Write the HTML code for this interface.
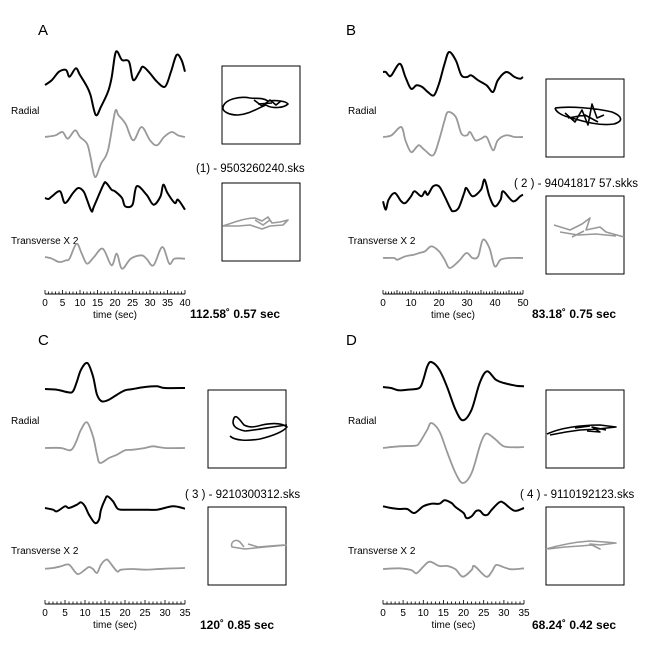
<!DOCTYPE html>
<html><head><meta charset="utf-8"><style>
html,body{margin:0;padding:0;background:#fff;}
svg{display:block;font-family:"Liberation Sans",sans-serif;}
</style></head><body>
<svg id="fig" width="670" height="669" viewBox="0 0 670 669" xmlns="http://www.w3.org/2000/svg">
<rect width="670" height="669" fill="#fff"/>
<g id="static" font-size="12" fill="#000">
<text x="38" y="35" font-size="15">A</text>
<text x="346" y="35" font-size="15">B</text>
<text x="38" y="345" font-size="15">C</text>
<text x="346" y="345" font-size="15">D</text>
<text x="11" y="114" font-size="10">Radial</text>
<text x="348" y="114" font-size="10">Radial</text>
<text x="11" y="424" font-size="10">Radial</text>
<text x="348" y="424" font-size="10">Radial</text>
<text x="11" y="244" font-size="10">Transverse X 2</text>
<text x="348" y="244" font-size="10">Transverse X 2</text>
<text x="11" y="554" font-size="10">Transverse X 2</text>
<text x="348" y="554" font-size="10">Transverse X 2</text>
<text x="196" y="172" font-size="11.5">(1) - 9503260240.sks</text>
<text x="514" y="187" font-size="11.5">( 2 ) - 94041817 57.skks</text>
<text x="185" y="498" font-size="11.5">( 3 ) - 9210300312.sks</text>
<text x="520" y="498" font-size="11.5">( 4 ) - 9110192123.sks</text>
<text x="190" y="318" font-size="12" font-weight="bold">112.58˚ 0.57 sec</text>
<text x="532" y="318" font-size="12" font-weight="bold">83.18˚ 0.75 sec</text>
<text x="200" y="629" font-size="12" font-weight="bold">120˚ 0.85 sec</text>
<text x="532" y="629" font-size="12" font-weight="bold">68.24˚ 0.42 sec</text>
<g fill="none" stroke="#000" stroke-width="1">
<rect x="222" y="66" width="78" height="78"/>
<rect x="222" y="183" width="78" height="78"/>
<rect x="546" y="79" width="78" height="78"/>
<rect x="546" y="196" width="78" height="78"/>
<rect x="208" y="390" width="78" height="78"/>
<rect x="208" y="507" width="78" height="78"/>
<rect x="546" y="390" width="78" height="78"/>
<rect x="546" y="507" width="78" height="78"/>
</g>
<g fill="none" stroke-width="1.6" stroke-linejoin="round">
<path stroke="#000" d="M223 107 C225 99 240 96 250 98 C256 99 262 97 268 101 C276 100 286 101 288 104 C284 108 272 109 266 105 C258 108 250 114 238 115 C228 115 222 111 223 107 Z M254 100 L262 106 L270 100 L276 105 L281 101 M258 104 L272 103"/>
<path stroke="#999" d="M223 226 C235 222 245 218 255 218 L262 221 L268 217 L272 223 L280 222 L288 220 L283 225 L270 226 L262 229 L250 225 L238 226 Z M255 220 L263 225 L270 220"/>
<path stroke="#000" d="M555 108 C570 106 595 108 612 112 C622 116 624 121 614 124 C600 126 585 122 572 118 C562 116 556 112 555 108 M565 113 L575 122 L582 110 L588 125 L592 104 L597 118 L604 115 M568 118 L585 115 L598 122"/>
<path stroke="#999" d="M554 225 L570 230 L582 224 L590 218 L586 230 L600 227 L606 232 L624 237 M560 232 L578 235 L596 234 L616 236 M572 237 L584 231"/>
<path stroke="#000" d="M287 425 C270 427 258 430 245 431 C235 429 231 425 234 418 C236 414 240 420 244 425 C250 428 255 427 262 425 C272 423 282 423 287 427 C283 432 272 436 260 439 C248 441 235 441 230 436"/>
<path stroke="#999" d="M287 545 L265 547 L245 549 L232 547 C230 542 236 538 240 542 L244 547 M248 544 L258 547 L270 546 L284 545"/>
<path stroke="#000" d="M547 434 C560 428 580 425 600 425 L616 427 L598 429 L580 430 L566 432 L550 435 M587 431 L600 432 L592 427 L606 430 M575 428 L590 426"/>
<path stroke="#999" d="M546 549 C560 545 575 542 590 541 L605 542 L616 543 L600 545 L590 544 L600 549 L592 545 L580 546 L565 547 L548 549"/>
</g>
</g>
<g id="dyn"></g>
</svg>
<script>
// Panel A data (time in s, amplitude in arbitrary units)
const timesA1=[0,2,4,6,7,8.8,10,12,13,14.5,16,18,19,20,20.7,22,24,25.2,27,28,30,32,34.3,36,37.6,39,40];
const ampA1=[0,15,40,45,25,50,30,-5,-30,-90,-65,-20,20,90,100,75,70,15,40,55,35,10,-5,40,90,75,40];
const timesA2=[0,3,5,6.5,8.6,10,12,13,14.3,16,18,20,21,23,25.2,27.6,30,32,34,36.2,38,40];
const ampA2=[0,5,15,-5,20,0,-20,-60,-120,-80,-40,75,65,40,-10,30,-10,-25,0,15,5,0];
const timesA3=[0,1,2,4.3,5.7,8,9.5,11,12,13.3,14,16.7,17.5,19,20,22,22.9,25,26.2,29,31,33,33.8,35,37.1,38,40];
const ampA3=[0,-3,5,20,-15,15,30,20,-5,-40,-25,40,45,25,20,0,-25,-20,35,10,-20,5,40,15,-15,-5,-35];
const timesA4=[0,2,4,6,7,9,10.5,12,14,16.5,19,20.5,22,24.5,27.5,29,31,33.5,35.5,37,40];
const ampA4=[0,-5,-15,-10,-5,40,10,-20,0,25,-25,10,-35,-5,5,-5,-25,30,-20,-5,-5];
// Panel B
const timesB1=[0,1,2,3,6,8,10,12,14,16,18.2,20,22,23.6,26,28,30,31.5,34,37,39.3,41,44,47,49,50];
const ampB1=[0,0,-10,-10,25,-15,-50,-40,-45,-60,-70,-35,25,60,35,-10,-15,-10,-25,-40,-60,-25,0,-15,-20,-15];
const timesB2=[0,3,6.5,8,10,12,13,15,17.9,20,22,23.2,26,28,30,31.1,33,35,37,39.3,41,44,47,50];
const ampB2=[0,5,30,-10,-45,-30,-25,-40,-55,-10,50,75,60,10,5,15,-10,-5,0,-40,-10,5,0,0];
const timesB3=[0,1,2,4.2,6.5,8,10,11.3,13.7,15,16,17.9,20,22,24,25,27,29,29.8,32,35,36.3,38,39.9,42,42.9,46.4,49,50];
const ampB3=[-10,-35,-5,15,-10,-15,5,20,5,20,10,35,35,5,-30,-40,-30,15,30,5,25,55,5,-25,-5,20,-10,5,10];
const timesB4=[0,4,5,8,11,13,15,17.3,20,22,23.8,27,29.8,32,34,35.7,38,39.9,42,45,50];
const ampB4=[0,0,-5,5,10,15,20,35,20,-5,-30,-10,15,0,5,55,30,-25,-5,0,0];
// Panel C
const timesC1=[0,3,5.8,7,8,9,10.6,12,13,14.2,16,18,20,22,25,28,30,35];
const ampC1=[0,-2,-10,-7,23,58,78,38,-17,-37,-32,-17,-4,0,6,8,3,3];
const timesC2=[0,4,6,7,8,9,10.5,12,13,13.75,16,18,20,22,25,27,30,35];
const ampC2=[0,0,-7,0,25,55,77,35,-20,-45,-30,-20,-7,-5,0,5,0,0];
const timesC3=[0,2,3,5,6,8,9,10,11,12.5,13.5,14,15,15.6,17,18,19,22,25,28,32,35];
const ampC3=[0,-5,-10,5,0,10,17,5,-20,-45,-35,-5,25,35,20,0,-5,-5,-5,-5,5,-2];
const timesC4=[0,2,4,6,8.1,10,11,12,13,14,15.25,16,18,19,22,25,30,35];
const ampC4=[-2,0,5,10,-18,-5,3,-3,-15,10,25,20,-10,-5,-3,-5,-2,0];
// Panel D
const timesD1=[0,2,4,6,9,10,11,12,14,16,18,19.8,22,24,25.8,28,30,33,35];
const ampD1=[0,-3,-10,-8,-3,22,62,75,52,-3,-68,-100,-68,12,47,22,12,4,2];
const timesD2=[0,4,8,9,11,12,14,16,18,19.8,22,24,25,26,28,30,33,35];
const ampD2=[0,5,7,15,55,75,50,-15,-75,-105,-75,5,35,43,25,5,2,3];
const timesD3=[0,2,4,6,7.8,10,12,14,15.3,17,18,20,20.7,22,23,24,25,26,27,28.9,30,32.6,35];
const ampD3=[5,0,-3,-3,-15,5,13,13,23,15,3,-15,-30,-25,-10,-8,-20,-20,-5,17,15,-8,0];
const timesD4=[0,4,7,8.3,10,11.6,14,16,18,19.8,22,22.7,25.6,27,28.1,30,32,35];
const ampD4=[0,2,-3,-13,7,22,9,9,-1,-23,-3,9,-23,-8,12,5,-1,2];
// Axis ticks
const ticksA=[0,5,10,15,20,25,30,35,40];
const ticksB=[0,10,20,30,40,50];
const ticksC=[0,5,10,15,20,25,30,35];
const ticksD=[0,5,10,15,20,25,30,35];

const NS='http://www.w3.org/2000/svg';
const dyn=document.getElementById('dyn');
const AMP_SCALE=1/3;
const panels=[
 {id:'a',x0:45,x1:185,tmax:40,axisY:294,ticks:ticksA,bases:[85,137,198,257],traces:[[timesA1,ampA1],[timesA2,ampA2],[timesA3,ampA3],[timesA4,ampA4]]},
 {id:'b',x0:383,x1:523,tmax:50,axisY:294,ticks:ticksB,bases:[72,137,198,258],traces:[[timesB1,ampB1],[timesB2,ampB2],[timesB3,ampB3],[timesB4,ampB4]]},
 {id:'c',x0:45,x1:185,tmax:35,axisY:604,ticks:ticksC,bases:[389,448,508,568],traces:[[timesC1,ampC1],[timesC2,ampC2],[timesC3,ampC3],[timesC4,ampC4]]},
 {id:'d',x0:383,x1:524,tmax:35,axisY:604,ticks:ticksD,bases:[387,448,508,569],traces:[[timesD1,ampD1],[timesD2,ampD2],[timesD3,ampD3],[timesD4,ampD4]]}
];
const traceNames=['radial-original','radial-corrected','transverse-original','transverse-corrected'];
const colors=['#000','#999','#000','#999'];
function smoothPath(pts){
 let d='M'+pts[0][0].toFixed(1)+' '+pts[0][1].toFixed(1);
 for(let i=0;i<pts.length-1;i++){
  const p0=pts[i-1]||pts[i],p1=pts[i],p2=pts[i+1],p3=pts[i+2]||p2;
  const c1=[p1[0]+(p2[0]-p0[0])/6,p1[1]+(p2[1]-p0[1])/6];
  const c2=[p2[0]-(p3[0]-p1[0])/6,p2[1]-(p3[1]-p1[1])/6];
  d+=' C'+c1[0].toFixed(1)+' '+c1[1].toFixed(1)+' '+c2[0].toFixed(1)+' '+c2[1].toFixed(1)+' '+p2[0].toFixed(1)+' '+p2[1].toFixed(1);
 }
 return d;
}
panels.forEach(p=>{
 const xs=t=>p.x0+t/p.tmax*(p.x1-p.x0);
 p.traces.forEach((tr,k)=>{
  const ys=a=>p.bases[k]-a*AMP_SCALE;
  const pts=tr[0].map((t,i)=>[xs(t),ys(tr[1][i])]);
  const path=document.createElementNS(NS,'path');
  path.setAttribute('d',smoothPath(pts));
  path.setAttribute('fill','none');
  path.setAttribute('stroke',colors[k]);
  path.setAttribute('stroke-width',k%2?'1.8':'2');
  path.setAttribute('stroke-linejoin','round');
  
  
  dyn.appendChild(path);
 });
 const g=document.createElementNS(NS,'g');
 
 
 dyn.appendChild(g);
 const line=document.createElementNS(NS,'line');
 line.setAttribute('x1',p.x0);line.setAttribute('x2',p.x1);
 line.setAttribute('y1',p.axisY);line.setAttribute('y2',p.axisY);
 line.setAttribute('stroke','#000');line.setAttribute('stroke-width','1');
 
 
 g.appendChild(line);
 let d='';
 for(let t=0;t<=p.tmax+1e-6;t+=1){
  const x=xs(t).toFixed(1);
  const h=(t%5===0)?4:2.5;
  d+='M'+x+' '+p.axisY+' V'+(p.axisY-h)+' ';
 }
 const tk=document.createElementNS(NS,'path');
 tk.setAttribute('d',d);tk.setAttribute('stroke','#000');tk.setAttribute('stroke-width','0.8');
 
 
 g.appendChild(tk);
 p.ticks.forEach(v=>{
  const tx=document.createElementNS(NS,'text');
  tx.setAttribute('x',xs(v));tx.setAttribute('y',p.axisY+12);
  tx.setAttribute('font-size','10');tx.setAttribute('text-anchor','middle');
  tx.textContent=v;
  
  
  g.appendChild(tx);
 });
 const title=document.createElementNS(NS,'text');
 title.setAttribute('x',(p.x0+p.x1)/2);title.setAttribute('y',p.axisY+24);
 title.setAttribute('font-size','10');title.setAttribute('text-anchor','middle');
 title.textContent='time (sec)';
 
 
 g.appendChild(title);
});
</script>
</body></html>
